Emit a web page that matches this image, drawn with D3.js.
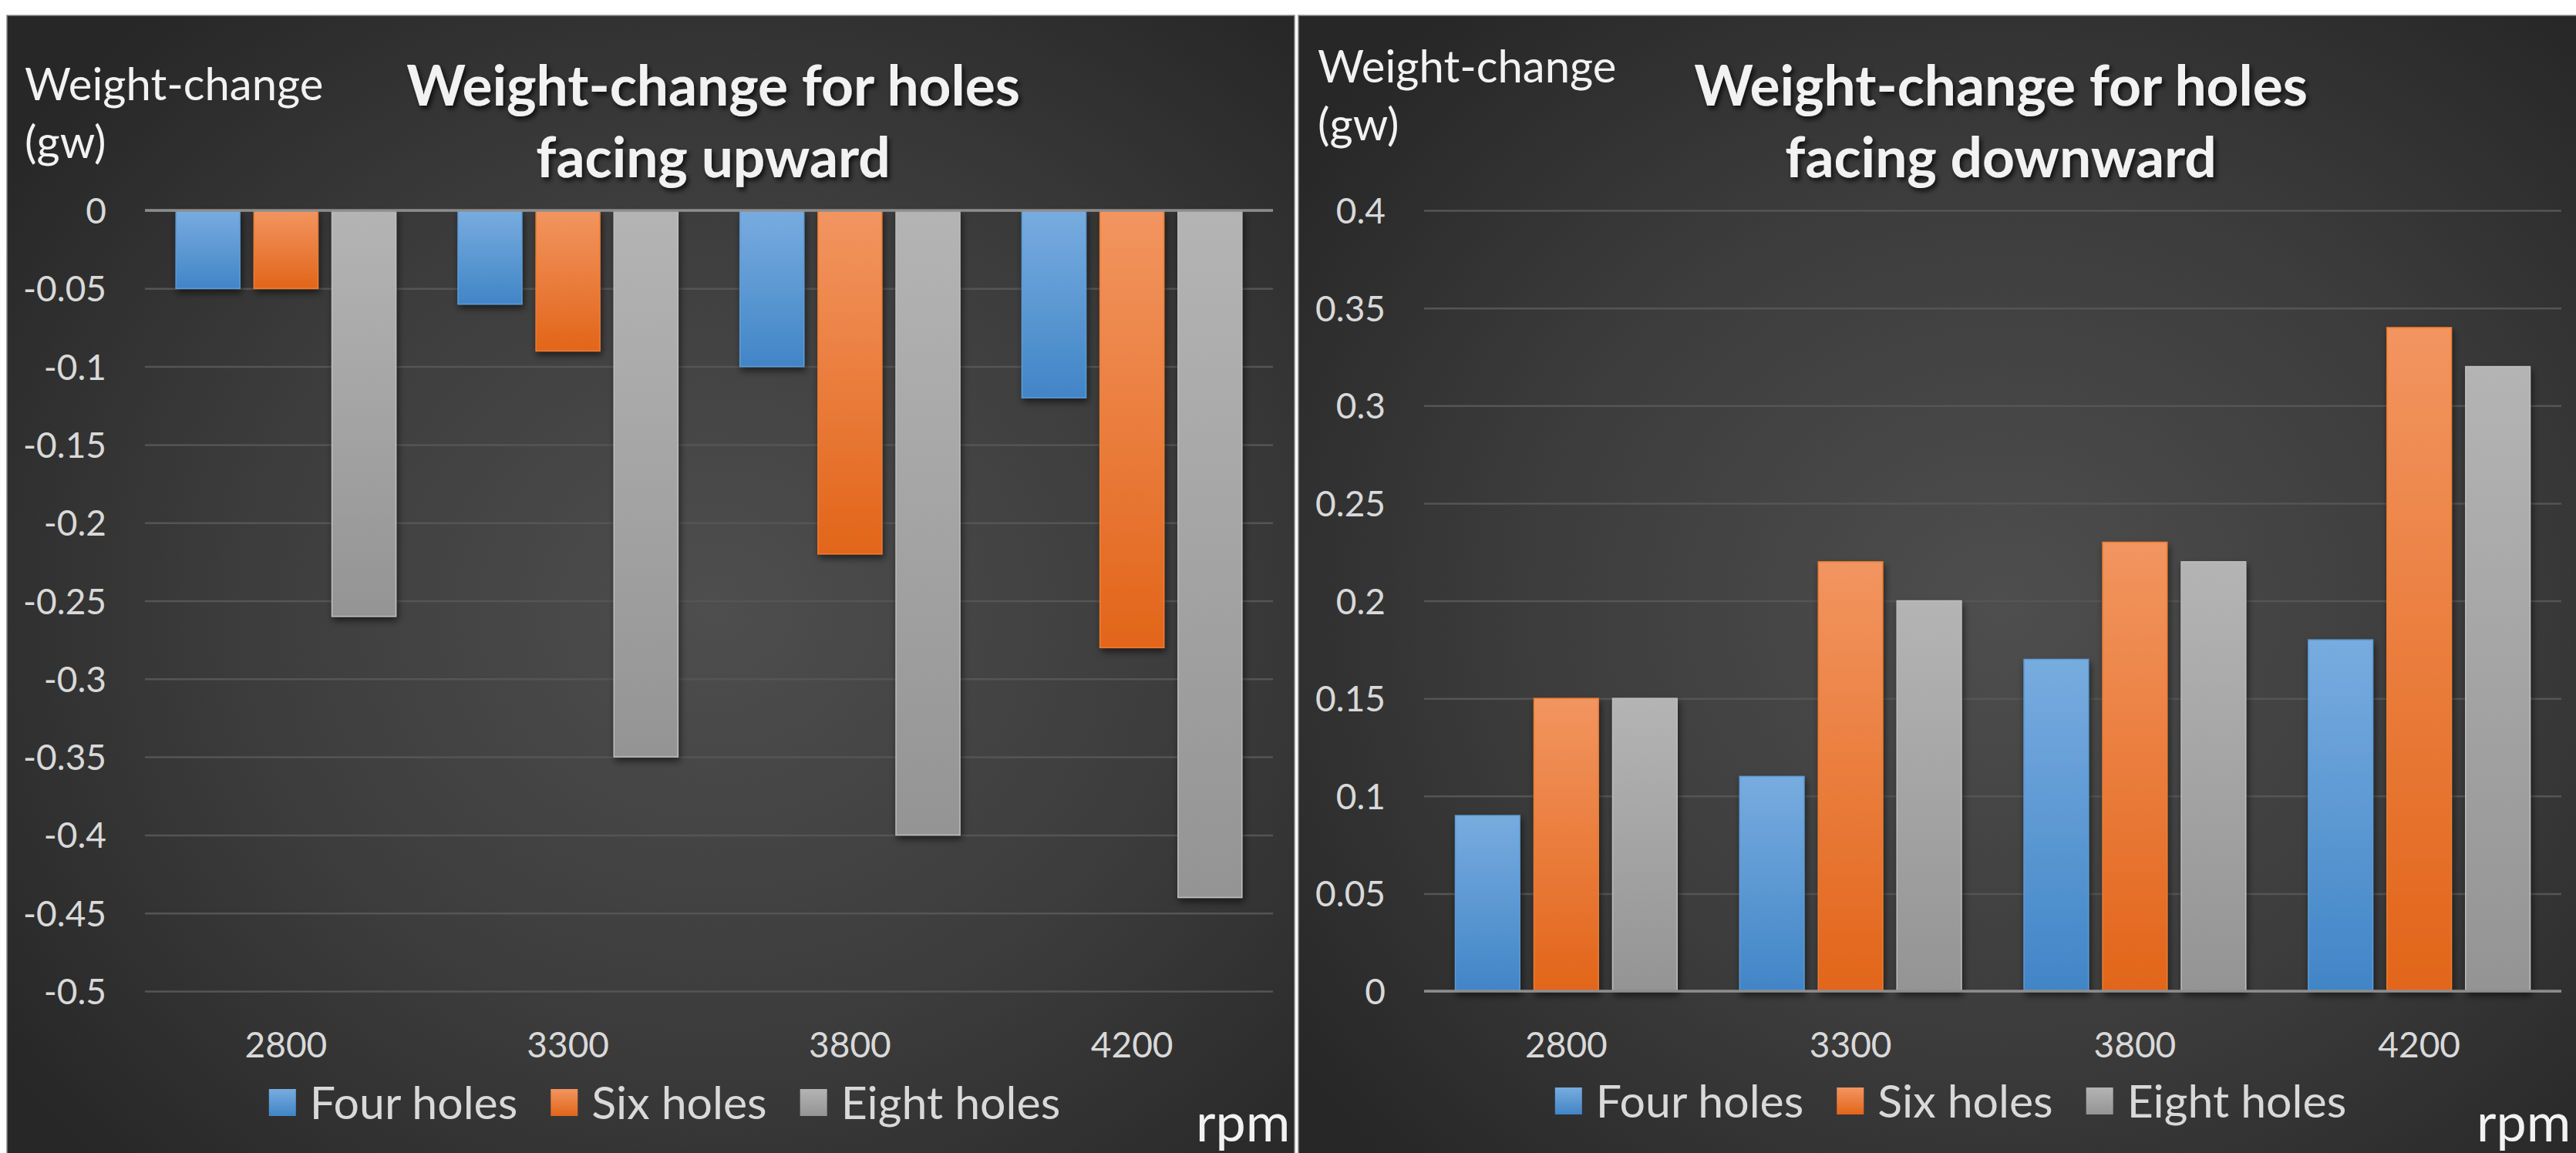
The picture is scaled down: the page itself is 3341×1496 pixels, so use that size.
<!DOCTYPE html>
<html>
<head>
<meta charset="utf-8">
<script src="https://cdn.jsdelivr.net/npm/d3@7"></script>
<style>
  html, body { margin: 0; padding: 0; background: #ffffff; }
  svg { display: block; }
  text { font-family: Lato, "Open Sans", sans-serif; }
</style>
</head>
<body>
<svg id="chart" width="3341" height="1496"></svg>
<script>
// ---- data ----
const categories = ["2800", "3300", "3800", "4200"];
const seriesNames = ["Four holes", "Six holes", "Eight holes"];

// holes facing upward (weight change, gw)
const upFour  = [-0.05, -0.06, -0.10, -0.12];
const upSix   = [-0.05, -0.09, -0.22, -0.28];
const upEight = [-0.26, -0.35, -0.40, -0.44];

// holes facing downward (weight change, gw)
const downFour  = [0.09, 0.11, 0.17, 0.18];
const downSix   = [0.15, 0.22, 0.23, 0.34];
const downEight = [0.15, 0.20, 0.22, 0.32];

const upTicks   = [0, -0.05, -0.1, -0.15, -0.2, -0.25, -0.3, -0.35, -0.4, -0.45, -0.5];
const downTicks = [0, 0.05, 0.1, 0.15, 0.2, 0.25, 0.3, 0.35, 0.4];

const upTitle   = ["Weight-change for holes", "facing upward"];
const downTitle = ["Weight-change for holes", "facing downward"];
const yTitle    = ["Weight-change", "(gw)"];
const xUnit     = "rpm";

// ---- styling ----
const seriesColors = [
  { top: "#78acdf", bottom: "#4185c7", edge: "#5b9bd5" },
  { top: "#f29560", bottom: "#e2651a", edge: "#ed7d31" },
  { top: "#b4b4b4", bottom: "#949494", edge: "#bdbdbd" }
];

const svg = d3.select("#chart");
const defs = svg.append("defs");

// panel background glow
const bg = defs.append("radialGradient").attr("id", "panelBg")
  .attr("cx", 0.55).attr("cy", 0.52).attr("r", 0.68);
bg.append("stop").attr("offset", 0).attr("stop-color", "#4e4e4e");
bg.append("stop").attr("offset", 0.55).attr("stop-color", "#3c3c3c");
bg.append("stop").attr("offset", 1).attr("stop-color", "#272727");

// bar fills
seriesColors.forEach((c, i) => {
  const g = defs.append("linearGradient").attr("id", "barFill" + i)
    .attr("x1", 0).attr("y1", 0).attr("x2", 0).attr("y2", 1);
  g.append("stop").attr("offset", 0).attr("stop-color", c.top);
  g.append("stop").attr("offset", 1).attr("stop-color", c.bottom);
});

// soft shadows
const barShadow = defs.append("filter").attr("id", "barShadow")
  .attr("x", "-20%").attr("y", "-20%").attr("width", "150%").attr("height", "150%");
barShadow.append("feDropShadow").attr("dx", 2).attr("dy", 5).attr("stdDeviation", 5)
  .attr("flood-color", "#000").attr("flood-opacity", 0.55);

const textShadow = defs.append("filter").attr("id", "textShadow")
  .attr("x", "-10%").attr("y", "-30%").attr("width", "120%").attr("height", "170%");
textShadow.append("feDropShadow").attr("dx", 3).attr("dy", 4).attr("stdDeviation", 3)
  .attr("flood-color", "#000").attr("flood-opacity", 0.75);

function drawPanel(cfg) {
  const g = svg.append("g");

  // background
  g.append("rect")
    .attr("x", cfg.panel.x).attr("y", cfg.panel.y)
    .attr("width", cfg.panel.w).attr("height", cfg.panel.h)
    .attr("fill", "url(#panelBg)")
    .attr("stroke", "#8a8a8a").attr("stroke-width", 1.5);

  const y = d3.scaleLinear().domain(cfg.domain).range([cfg.plot.bottom, cfg.plot.top]);
  const x0 = d3.scaleBand().domain(categories)
    .range([cfg.plot.left, cfg.plot.right])
    .paddingInner(0.22).paddingOuter(0.11);
  const x1 = d3.scaleBand().domain(seriesNames)
    .range([0, x0.bandwidth()]).paddingInner(0.18).paddingOuter(0);

  // gridlines and value labels
  const yAxis = d3.axisLeft(y).tickValues(cfg.ticks)
    .tickSize(-(cfg.plot.right - cfg.plot.left))
    .tickPadding(50)
    .tickFormat(d => Math.abs(d) < 1e-9 ? "0" : String(+d.toFixed(2)));
  const ay = g.append("g")
    .attr("transform", `translate(${cfg.plot.left},0)`)
    .call(yAxis);
  ay.select(".domain").remove();
  ay.selectAll(".tick line").attr("stroke", "#555555").attr("stroke-width", 2.5);
  ay.selectAll(".tick text")
    .attr("fill", "#d9d9d9").attr("font-size", 46)
    .attr("dy", "0.36em");

  // bars
  const series = cfg.values.map((vals, si) =>
    vals.map((v, ci) => ({ si, cat: categories[ci], v })));
  const zero = y(0);
  g.append("g").selectAll("g").data(series).join("g")
    .attr("filter", "url(#barShadow)")
    .selectAll("rect").data(d => d).join("rect")
      .attr("x", d => x0(d.cat) + x1(seriesNames[d.si]))
      .attr("width", x1.bandwidth())
      .attr("y", d => Math.min(y(d.v), zero))
      .attr("height", d => Math.abs(y(d.v) - zero))
      .attr("fill", d => `url(#barFill${d.si})`)
      .attr("stroke", d => seriesColors[d.si].edge)
      .attr("stroke-width", 1.5);

  // category axis line at zero
  g.append("line")
    .attr("x1", cfg.plot.left).attr("x2", cfg.plot.right)
    .attr("y1", zero).attr("y2", zero)
    .attr("stroke", "#8e8e8e").attr("stroke-width", 3.5);

  // category labels
  const ax = g.append("g")
    .attr("transform", `translate(0,${cfg.xLabelY})`)
    .call(d3.axisBottom(x0).tickSize(0).tickPadding(0));
  ax.select(".domain").remove();
  ax.selectAll(".tick text")
    .attr("fill", "#d9d9d9").attr("font-size", 46).attr("dy", 0);

  // value axis title
  g.append("text")
    .attr("x", cfg.yTitle.x).attr("y", cfg.yTitle.y)
    .attr("fill", "#f2f2f2").attr("font-size", 58)
    .selectAll("tspan").data(yTitle).join("tspan")
      .attr("x", cfg.yTitle.x)
      .attr("dy", (d, i) => i === 0 ? 0 : 75)
      .text(d => d);

  // chart title
  g.append("text")
    .attr("x", cfg.titleX).attr("y", 137)
    .attr("text-anchor", "middle")
    .attr("fill", "#f2f2f2").attr("font-size", 73).attr("font-weight", 700)
    .attr("filter", "url(#textShadow)")
    .selectAll("tspan").data(cfg.title).join("tspan")
      .attr("x", cfg.titleX)
      .attr("dy", (d, i) => i === 0 ? 0 : 93)
      .text(d => d);

  // legend
  const leg = g.append("g").attr("transform", `translate(0,${cfg.legendY})`);
  const items = leg.selectAll("g").data(seriesNames).join("g");
  items.append("rect")
    .attr("width", 35).attr("height", 35).attr("y", -39)
    .attr("fill", (d, i) => `url(#barFill${i})`);
  items.append("text")
    .attr("x", 53).attr("y", 0)
    .attr("fill", "#d9d9d9").attr("font-size", 59)
    .text(d => d);
  const widths = [];
  items.each(function () {
    widths.push(53 + d3.select(this).select("text").node().getComputedTextLength());
  });
  const gap = 43;
  const total = d3.sum(widths) + gap * (widths.length - 1);
  let start = cfg.legendCenter - total / 2;
  items.attr("transform", (d, i) => {
    const tx = start;
    start += widths[i] + gap;
    return `translate(${tx},0)`;
  });

  // unit label
  g.append("text")
    .attr("x", cfg.unitX).attr("y", 1481)
    .attr("fill", "#f2f2f2").attr("font-size", 70)
    .text(xUnit);
}

drawPanel({
  panel: { x: 9, y: 20, w: 1670, h: 1480 },
  plot: { left: 188, right: 1651, top: 273, bottom: 1286 },
  domain: [-0.5, 0],
  ticks: upTicks,
  values: [upFour, upSix, upEight],
  title: upTitle,
  titleX: 925,
  yTitle: { x: 32, y: 130 },
  xLabelY: 1372,
  legendY: 1452,
  legendCenter: 862,
  unitX: 1551
});

drawPanel({
  panel: { x: 1684, y: 20, w: 1660, h: 1480 },
  plot: { left: 1847, right: 3322, top: 273, bottom: 1286 },
  domain: [0, 0.4],
  ticks: downTicks,
  values: [downFour, downSix, downEight],
  title: downTitle,
  titleX: 2595,
  yTitle: { x: 1709, y: 107 },
  xLabelY: 1372,
  legendY: 1450,
  legendCenter: 2530,
  unitX: 3212
});
</script>
</body>
</html>
